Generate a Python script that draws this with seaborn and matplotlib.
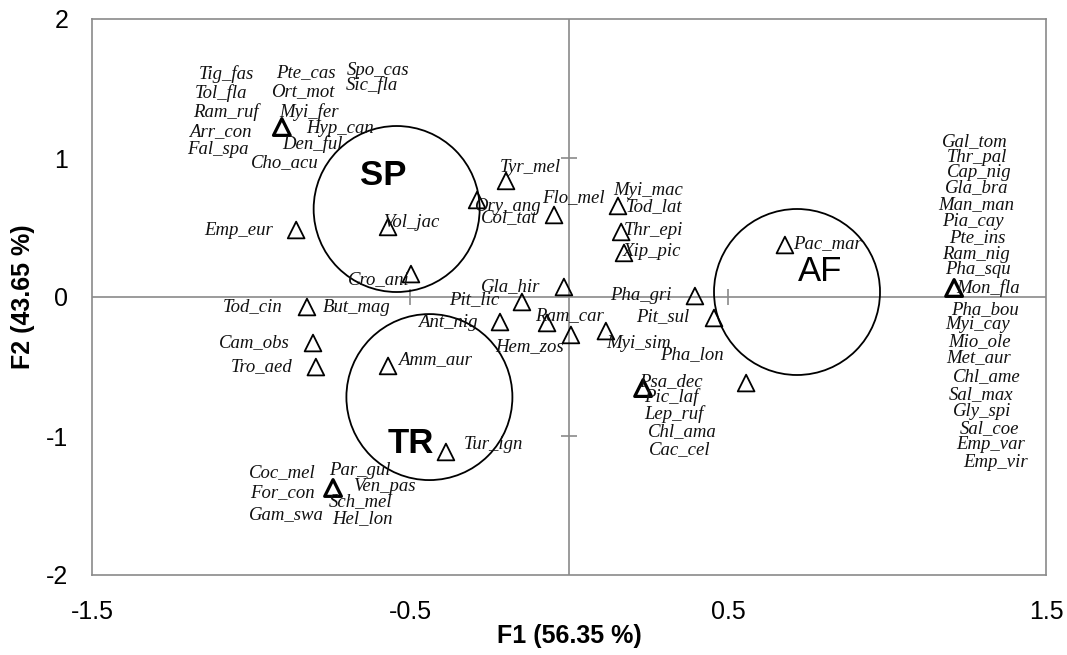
import numpy as np
import pandas as pd
import matplotlib
matplotlib.use("Agg")
import matplotlib.pyplot as plt
import seaborn as sns
from matplotlib.patches import Ellipse

# ---------------- data ----------------
point_f1 = [-0.903, -0.858, -0.569, -0.497, -0.824, -0.805, -0.796, -0.569, -0.387, -0.742,
            -0.289, -0.198, -0.047, 0.154, 0.164, 0.173, -0.016, -0.148, -0.217, -0.069,
            0.006, 0.116, 0.396, 0.456, 0.557, 0.233, 0.679, 1.211]
point_f2 = [1.223, 0.482, 0.504, 0.165, -0.072, -0.331, -0.504, -0.496, -1.115, -1.374,
            0.698, 0.835, 0.590, 0.655, 0.468, 0.317, 0.072, -0.036, -0.180, -0.187,
            -0.273, -0.245, 0.007, -0.151, -0.619, -0.655, 0.374, 0.065]
point_species = [
    ["Tig_fas", "Tol_fla", "Ram_ruf", "Arr_con", "Fal_spa", "Cho_acu", "Pte_cas",
     "Ort_mot", "Myi_fer", "Hyp_can", "Den_ful", "Spo_cas", "Sic_fla"],
    ["Emp_eur"],
    ["Vol_jac"],
    ["Cro_ani"],
    ["Tod_cin", "But_mag"],
    ["Cam_obs"],
    ["Tro_aed"],
    ["Amm_aur"],
    ["Tur_ign"],
    ["Coc_mel", "For_con", "Gam_swa", "Par_gul", "Ven_pas", "Sch_mel", "Hel_lon"],
    ["Ory_ang", "Col_tat"],
    ["Tyr_mel"],
    ["Flo_mel"],
    ["Myi_mac", "Tod_lat"],
    ["Thr_epi"],
    ["Xip_pic"],
    ["Gla_hir"],
    ["Pit_lic"],
    ["Ant_nig"],
    ["Ram_car"],
    ["Hem_zos"],
    ["Myi_sim"],
    ["Pha_gri"],
    ["Pit_sul"],
    ["Pha_lon"],
    ["Psa_dec", "Pic_laf", "Lep_ruf", "Chl_ama", "Cac_cel"],
    ["Pac_mar"],
    ["Gal_tom", "Thr_pal", "Cap_nig", "Gla_bra", "Man_man", "Pia_cay", "Pte_ins",
     "Ram_nig", "Pha_squ", "Mon_fla", "Pha_bou", "Myi_cay", "Mio_ole", "Met_aur",
     "Chl_ame", "Sal_max", "Gly_spi", "Sal_coe", "Emp_var", "Emp_vir"],
]

group_names = ["SP", "TR", "AF"]
group_f1 = [-0.542, -0.439, 0.717]
group_f2 = [0.633, -0.720, 0.036]

x_ticks = [-1.5, -0.5, 0.5, 1.5]
x_tick_labels = ["-1.5", "-0.5", "0.5", "1.5"]
y_ticks = [2, 1, 0, -1, -2]
y_tick_labels = ["2", "1", "0", "-1", "-2"]
x_title = "F1 (56.35 %)"
y_title = "F2 (43.65 %)"

# ---------------- layout (pixel offsets of labels from their marker, y down) ----------------
label_offsets = {
    "Tig_fas": (-55, -53), "Tol_fla": (-61, -34), "Ram_ruf": (-56, -15), "Arr_con": (-62, 5),
    "Fal_spa": (-64, 22), "Cho_acu": (3, 36), "Pte_cas": (24, -54), "Ort_mot": (21, -35),
    "Myi_fer": (27, -15), "Hyp_can": (58, 1), "Den_ful": (31, 17), "Spo_cas": (96, -57),
    "Sic_fla": (90, -42),
    "Emp_eur": (-58, 0), "Vol_jac": (23, -4), "Cro_ani": (-32, 6),
    "Tod_cin": (-54, 0), "But_mag": (50, 0), "Cam_obs": (-59, 0), "Tro_aed": (-54, 0),
    "Amm_aur": (47, -6), "Tur_ign": (48, -7),
    "Coc_mel": (-51, -15), "For_con": (-51, 5), "Gam_swa": (-47, 27), "Par_gul": (27, -17),
    "Ven_pas": (51, -1), "Sch_mel": (28, 14), "Hel_lon": (29, 31),
    "Ory_ang": (30, 7), "Col_tat": (32, 18), "Tyr_mel": (24, -13), "Flo_mel": (19, -17),
    "Myi_mac": (30, -15), "Tod_lat": (36, 1), "Thr_epi": (32, -1), "Xip_pic": (28, -1),
    "Gla_hir": (-53, 0), "Pit_lic": (-48, -2), "Ant_nig": (-52, 0), "Ram_car": (22, -7),
    "Hem_zos": (-41, 12), "Myi_sim": (33, 12), "Pha_gri": (-54, -1), "Pit_sul": (-51, -1),
    "Pha_lon": (-54, -28),
    "Psa_dec": (28, -6), "Pic_laf": (28, 9), "Lep_ruf": (31, 26), "Chl_ama": (39, 44),
    "Cac_cel": (37, 62), "Pac_mar": (43, -1),
    "Gal_tom": (21, -146), "Thr_pal": (23, -130), "Cap_nig": (25, -115), "Gla_bra": (23, -100),
    "Man_man": (22, -83), "Pia_cay": (19, -66), "Pte_ins": (23, -50), "Ram_nig": (22, -33),
    "Pha_squ": (24, -18), "Mon_fla": (34, 0), "Pha_bou": (31, 22), "Myi_cay": (23, 37),
    "Mio_ole": (25, 54), "Met_aur": (24, 70), "Chl_ame": (33, 89), "Sal_max": (27, 107),
    "Gly_spi": (28, 124), "Sal_coe": (35, 141), "Emp_var": (36, 157), "Emp_vir": (41, 175),
}
group_text_offsets = {"SP": (-13, -34), "TR": (-19, 46), "AF": (23, -20)}
group_text_weight = {"SP": "bold", "TR": "bold", "AF": "normal"}
circle_radius_px = 83

W, H = 1067, 655
AX_L, AX_R, AX_T, AX_B = 92, 1046, 19, 575
GRAY = "#8a8a8a"
PT = 72 / 100.0  # points per pixel

# ---------------- build ----------------
rows = []
for i, (x, y, sp) in enumerate(zip(point_f1, point_f2, point_species)):
    for s in sp:
        rows.append(dict(species=s, F1=x, F2=y, point=i, n=len(sp)))
df = pd.DataFrame(rows)
pts = df.drop_duplicates("point")

sns.set_theme(style="white")
plt.rcParams["font.family"] = ["Liberation Sans", "DejaVu Sans"]
plt.rcParams["text.color"] = "black"

fig = plt.figure(figsize=(W / 100, H / 100), dpi=100)
ax = fig.add_axes([AX_L / W, (H - AX_B) / H, (AX_R - AX_L) / W, (AX_B - AX_T) / H])
ax.set_xlim(-1.5, 1.5)
ax.set_ylim(-2, 2)

# center axes lines with cross ticks
ax.axhline(0, color=GRAY, lw=1.2, zorder=1)
ax.axvline(0, color=GRAY, lw=1.2, zorder=1)
for xv in [-0.5, 0.5]:
    ax.plot([xv], [0], marker="|", ms=16 * PT, mew=1.2, color=GRAY, zorder=1)
for yv in [-1, 1]:
    ax.plot([0], [yv], marker="_", ms=16 * PT, mew=1.2, color=GRAY, zorder=1)

single = pts[pts["n"] < 3]
multi = pts[pts["n"] >= 3]
sns.scatterplot(data=single, x="F1", y="F2", marker="^", s=145, color="none",
                edgecolor="black", linewidth=1.3, ax=ax, zorder=4, legend=False)
sns.scatterplot(data=multi, x="F1", y="F2", marker="^", s=145, color="none",
                edgecolor="black", linewidth=2.3, ax=ax, zorder=4, legend=False)

# species labels
for _, r in df.iterrows():
    dx, dy = label_offsets[r["species"]]
    ax.annotate(r["species"], (r["F1"], r["F2"]), xytext=(dx * PT, -dy * PT),
                textcoords="offset points", ha="center", va="center",
                fontfamily="Liberation Serif", fontstyle="italic", fontsize=13.5,
                color="#111111", zorder=5)

# group circles
px_x = (AX_R - AX_L) / 3.0
px_y = (AX_B - AX_T) / 4.0
for name, cx, cy in zip(group_names, group_f1, group_f2):
    ax.add_patch(Ellipse((cx, cy), width=2 * circle_radius_px / px_x,
                         height=2 * circle_radius_px / px_y, fill=False,
                         ec="black", lw=1.3, zorder=3))
    dx, dy = group_text_offsets[name]
    ax.annotate(name, (cx, cy), xytext=(dx * PT, -dy * PT), textcoords="offset points",
                ha="center", va="center", fontsize=25, fontweight=group_text_weight[name],
                color="black", zorder=5)

# frame & ticks
for sp in ax.spines.values():
    sp.set_color(GRAY)
    sp.set_linewidth(1.2)
ax.set_xticks(x_ticks)
ax.set_xticklabels(x_tick_labels)
ax.set_yticks(y_ticks)
ax.set_yticklabels(y_tick_labels)
ax.tick_params(axis="both", length=0, labelsize=18, colors="black", labelcolor="black")
ax.tick_params(axis="x", pad=18)
ax.tick_params(axis="y", pad=17)
ax.grid(False)
ax.set_xlabel("")
ax.set_ylabel("")

fig.text((AX_L + AX_R) / 2 / W, 1 - 636 / H, x_title, ha="center", va="center",
         fontsize=18, fontweight="bold", color="black")
fig.text(23 / W, 1 - 297 / H, y_title, ha="center", va="center", rotation=90,
         fontsize=18, fontweight="bold", color="black")

fig.savefig("out.png", dpi=100)
